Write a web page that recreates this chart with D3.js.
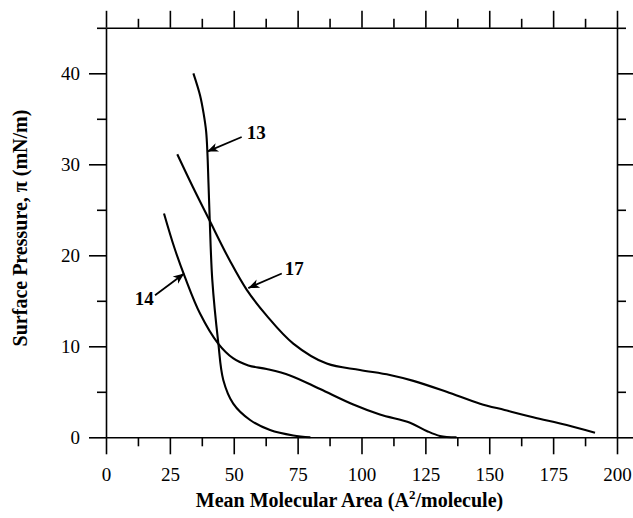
<!DOCTYPE html>
<html lang="en">
<head>
  <meta charset="UTF-8">
  <title>Surface Pressure Isotherms</title>
  <script src="https://d3js.org/d3.v7.min.js"></script>
  <style>
    body { margin: 0; background: #fff; }
    text { font-family: "Liberation Serif", "Times New Roman", serif; fill: #000; }
    .axis path, .axis line { stroke: #000; stroke-width: 1.6px; }
    .curve { fill: none; stroke: #000; stroke-width: 2.1px; }
  </style>
</head>
<body>
  <svg id="chart" width="633" height="518"></svg>

  <script>
    // Isotherm readings (area in A^2/molecule, pressure in mN/m)
    const area13 = [34.2, 36.8, 38.2, 39.2, 39.7, 40.1, 40.6, 41.6, 43.9, 45.9, 49.8, 56.4, 64.2, 73.3, 80.0];
    const pressure13 = [40.0, 37.6, 35.6, 33.6, 31.2, 28.0, 23.9, 17.3, 10.5, 6.3, 3.7, 1.9, 0.8, 0.2, 0.0];

    const area14 = [22.7, 26.8, 30.9, 36.8, 43.9, 49.7, 55.7, 62.9, 72.0, 83.8, 96.8, 107.2, 119.0, 125.5, 130.7, 137.2];
    const pressure14 = [24.6, 20.8, 17.6, 13.6, 10.3, 8.7, 7.9, 7.5, 6.8, 5.3, 3.6, 2.5, 1.6, 0.7, 0.15, 0.0];

    const area17 = [27.9, 34.0, 40.4, 48.5, 55.1, 62.8, 73.3, 86.4, 99.4, 111.1, 120.3, 133.3, 146.4, 156.0, 167.2, 180.3, 191.4];
    const pressure17 = [31.1, 27.5, 23.9, 19.4, 16.2, 13.4, 10.3, 8.1, 7.4, 6.85, 6.2, 5.0, 3.7, 3.0, 2.2, 1.35, 0.5];

    // Curve labels: [name, text x, text y, arrow tail x, tail y, arrow tip x, tip y]
    const labels = [
      ["13", 55.1, 32.8, 53.1, 33.0, 39.6, 31.4],
      ["17", 70.0, 17.8, 68.8, 18.0, 55.7, 16.4],
      ["14", 11.3, 14.5, 19.2, 15.6, 30.6, 18.0]
    ];

    const xMajor = d3.range(0, 201, 25);
    const xMinor = d3.range(12.5, 200, 25);
    const yMajor = d3.range(0, 41, 10);
    const yMinor = d3.range(5, 46, 10);

    const width = 633;
    const height = 518;
    const plotLeft = 106, plotRight = 617, plotTop = 27.8, plotBottom = 437.3;

    const svg = d3.select("#chart");

    const x = d3.scaleLinear().domain([0, 200]).range([plotLeft, plotRight]);
    const y = d3.scaleLinear().domain([0, 45]).range([plotBottom, plotTop]);

    // Arrow marker
    svg.append("defs").append("marker")
      .attr("id", "arrow")
      .attr("viewBox", "-12 -5 14 10")
      .attr("refX", 0)
      .attr("refY", 0)
      .attr("markerWidth", 14)
      .attr("markerHeight", 10)
      .attr("markerUnits", "userSpaceOnUse")
      .attr("orient", "auto")
      .append("path")
      .attr("d", "M0,0 L-11,-4.5 L-8,0 L-11,4.5 Z")
      .attr("fill", "#000");

    // Axes: major and minor ticks on all four sides, pointing outwards
    function addAxis(axisFn, scale, transform, majors, minors, showLabels) {
      const major = axisFn(scale).tickValues(majors).tickSize(17).tickSizeOuter(0);
      if (showLabels) major.tickPadding(axisFn === d3.axisBottom ? 13 : 9);
      else major.tickFormat("");
      svg.append("g").attr("class", "axis").attr("transform", transform).call(major);

      const minor = axisFn(scale).tickValues(minors).tickSize(9).tickSizeOuter(0).tickFormat("");
      svg.append("g").attr("class", "axis").attr("transform", transform).call(minor)
        .select(".domain").remove();
    }

    addAxis(d3.axisBottom, x, `translate(0,${plotBottom})`, xMajor, xMinor, true);
    addAxis(d3.axisTop, x, `translate(0,${plotTop})`, xMajor, xMinor, false);
    addAxis(d3.axisLeft, y, `translate(${plotLeft},0)`, yMajor, yMinor, true);
    addAxis(d3.axisRight, y, `translate(${plotRight},0)`, yMajor, yMinor, false);

    svg.selectAll(".axis text")
      .attr("fill", "#000")
      .style("font-family", "'Liberation Serif', serif")
      .style("font-size", "19px");

    // Curves
    const line = d3.line()
      .x((d) => x(d[0]))
      .y((d) => y(d[1]))
      .curve(d3.curveCatmullRom.alpha(0.5));

    const series = [
      d3.zip(area13, pressure13),
      d3.zip(area14, pressure14),
      d3.zip(area17, pressure17)
    ];

    svg.selectAll("path.curve")
      .data(series)
      .enter()
      .append("path")
      .attr("class", "curve")
      .attr("d", line);

    // Curve labels with arrows
    svg.selectAll("line.pointer")
      .data(labels)
      .enter()
      .append("line")
      .attr("class", "pointer")
      .attr("x1", (d) => x(d[3]))
      .attr("y1", (d) => y(d[4]))
      .attr("x2", (d) => x(d[5]))
      .attr("y2", (d) => y(d[6]))
      .attr("stroke", "#000")
      .attr("stroke-width", 1.8)
      .attr("marker-end", "url(#arrow)");

    svg.selectAll("text.tag")
      .data(labels)
      .enter()
      .append("text")
      .attr("class", "tag")
      .attr("x", (d) => x(d[1]))
      .attr("y", (d) => y(d[2]))
      .style("font-size", "19px")
      .style("font-weight", "bold")
      .text((d) => d[0]);

    // Axis titles
    const xTitle = svg.append("text")
      .attr("x", 349.5)
      .attr("y", 506.5)
      .attr("text-anchor", "middle")
      .style("font-size", "20px")
      .style("font-weight", "bold");
    xTitle.append("tspan").text("Mean Molecular Area (A");
    xTitle.append("tspan").attr("dy", -8).style("font-size", "13px").text("2");
    xTitle.append("tspan").attr("dy", 8).text("/molecule)");

    svg.append("text")
      .attr("transform", "translate(27,228) rotate(-90)")
      .attr("text-anchor", "middle")
      .style("font-size", "20px")
      .style("font-weight", "bold")
      .text("Surface Pressure, \u03c0 (mN/m)");
  </script>
</body>
</html>
